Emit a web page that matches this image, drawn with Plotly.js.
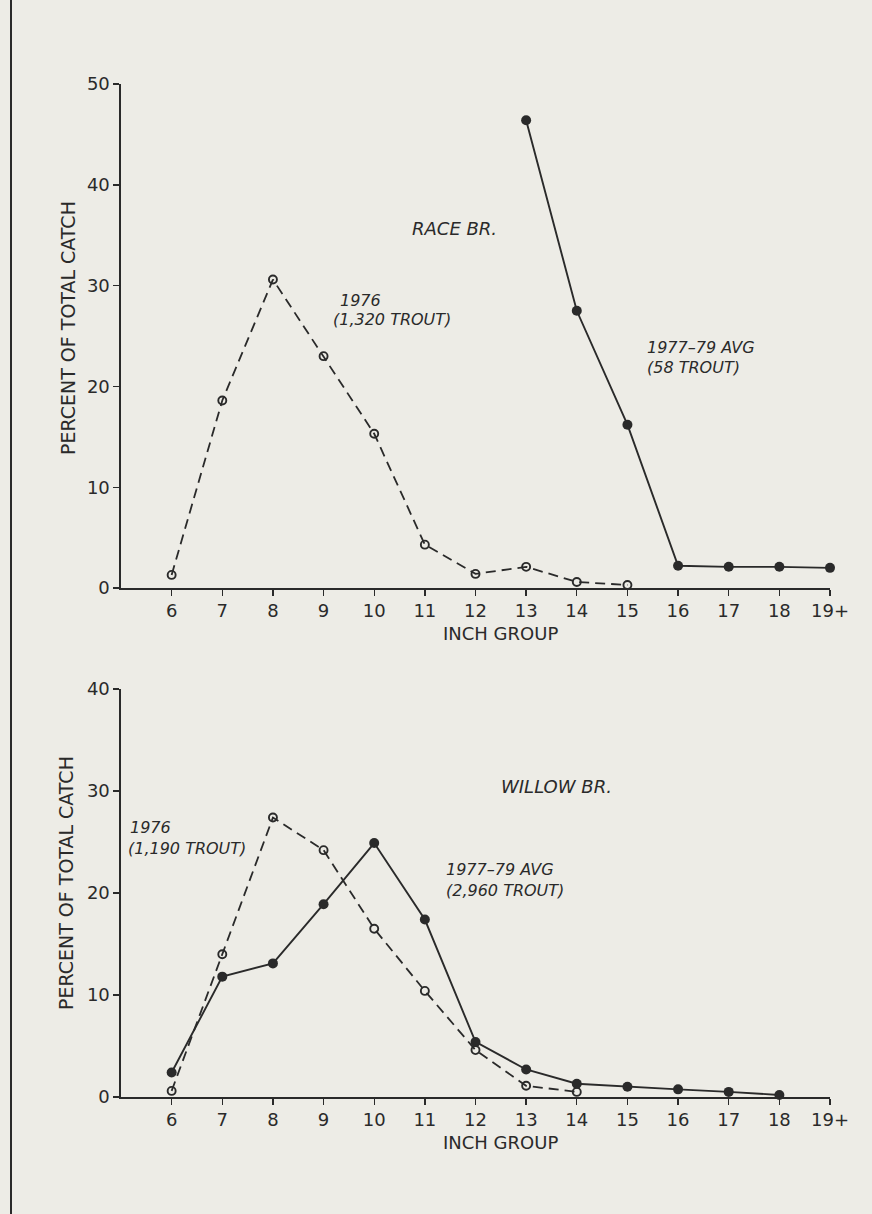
<!DOCTYPE html>
<html>
<head>
<meta charset="utf-8">
<script src="https://cdn.plot.ly/plotly-3.0.1.min.js"></script>
<style>
  html, body { margin: 0; padding: 0; background: #edece6; }
  #chart { width: 872px; height: 1214px; }
</style>
</head>
<body>
<div id="chart"></div>
<script>
// Inch groups shown along both x axes
const inchGroups = ['6', '7', '8', '9', '10', '11', '12', '13', '14', '15', '16', '17', '18', '19+'];

// Race Br. — percent of total catch by inch group
const raceGroups1976 = ['6', '7', '8', '9', '10', '11', '12', '13', '14', '15'];
const race1976 = [1.3, 18.6, 30.6, 23.0, 15.3, 4.3, 1.4, 2.1, 0.6, 0.3];
const raceGroupsAvg = ['13', '14', '15', '16', '17', '18', '19+'];
const raceAvg = [46.4, 27.5, 16.2, 2.2, 2.1, 2.1, 2.0];

// Willow Br. — percent of total catch by inch group
const willowGroups1976 = ['6', '7', '8', '9', '10', '11', '12', '13', '14'];
const willow1976 = [0.6, 14.0, 27.4, 24.2, 16.5, 10.4, 4.6, 1.1, 0.5];
const willowGroupsAvg = ['6', '7', '8', '9', '10', '11', '12', '13', '14', '15', '16', '17', '18'];
const willowAvg = [2.4, 11.8, 13.1, 18.9, 24.9, 17.4, 5.4, 2.7, 1.3, 1.0, 0.75, 0.5, 0.2];

const INK = '#2a2a2a';
const FONT = 'DejaVu Sans, Verdana, sans-serif';
const W = 872, H = 1214;
const px = v => v / W;
const py = v => 1 - v / H;

function dashed(x, y, xa, ya) {
  return {
    x: x, y: y, xaxis: xa, yaxis: ya, type: 'scatter', mode: 'lines+markers',
    line: { color: INK, width: 1.8, dash: '10px,6px' },
    marker: { symbol: 'circle-open', size: 8, color: INK, line: { color: INK, width: 1.9 } },
    cliponaxis: false, showlegend: false, hoverinfo: 'x+y'
  };
}
function solid(x, y, xa, ya) {
  return {
    x: x, y: y, xaxis: xa, yaxis: ya, type: 'scatter', mode: 'lines+markers',
    line: { color: INK, width: 1.9 },
    marker: { symbol: 'circle', size: 10, color: INK },
    cliponaxis: false, showlegend: false, hoverinfo: 'x+y'
  };
}

const data = [
  dashed(raceGroups1976, race1976, 'x', 'y'),
  solid(raceGroupsAvg, raceAvg, 'x', 'y'),
  dashed(willowGroups1976, willow1976, 'x2', 'y2'),
  solid(willowGroupsAvg, willowAvg, 'x2', 'y2')
];

function xAxis(anchor) {
  return {
    type: 'category', categoryarray: inchGroups, categoryorder: 'array',
    range: [-1, inchGroups.length - 1], domain: [px(121), px(830)], anchor: anchor,
    showline: true, linecolor: INK, linewidth: 1.6, mirror: false,
    ticks: 'outside', ticklen: 6, tickwidth: 1.4, tickcolor: INK,
    showgrid: false, zeroline: false, fixedrange: true,
    tickfont: { family: FONT, size: 18, color: INK }
  };
}
function yAxis(anchor, top, bottom, maxV) {
  return {
    range: [0, maxV], domain: [py(bottom), py(top)], anchor: anchor, dtick: 10,
    showline: true, linecolor: INK, linewidth: 1.6,
    ticks: 'outside', ticklen: 6, tickwidth: 1.4, tickcolor: INK,
    showgrid: false, zeroline: false, fixedrange: true,
    tickfont: { family: FONT, size: 18, color: INK }
  };
}

function label(text, x, y, size, opts) {
  return Object.assign({
    text: text, xref: 'paper', yref: 'paper', x: px(x), y: py(y),
    xanchor: 'left', yanchor: 'middle', showarrow: false,
    font: { family: FONT, size: size, color: INK }
  }, opts || {});
}

const annotations = [
  // y axis titles
  label('PERCENT OF TOTAL CATCH', 68, 328, 19, { xanchor: 'center', textangle: -90 }),
  label('PERCENT OF TOTAL CATCH', 66, 883, 19, { xanchor: 'center', textangle: -90 }),
  // x axis titles
  label('INCH GROUP', 500, 633, 18, { xanchor: 'center' }),
  label('INCH GROUP', 500, 1142, 18, { xanchor: 'center' }),
  // Race Br. panel
  label('<i>RACE BR.</i>', 410, 228, 18),
  label('<i>1976</i>', 338, 300, 16),
  label('<i>(1,320 TROUT)</i>', 331, 320, 16),
  label('<i>1977–79 AVG</i>', 645, 347, 16),
  label('<i>(58 TROUT)</i>', 645, 368, 16),
  // Willow Br. panel
  label('<i>WILLOW BR.</i>', 499, 786, 18),
  label('<i>1976</i>', 128, 827, 16),
  label('<i>(1,190 TROUT)</i>', 126, 848, 16),
  label('<i>1977–79 AVG</i>', 444, 869, 16),
  label('<i>(2,960 TROUT)</i>', 444, 890, 16)
];

const layout = {
  width: W, height: H,
  margin: { l: 0, r: 0, t: 0, b: 0 },
  paper_bgcolor: '#edece6', plot_bgcolor: 'rgba(0,0,0,0)',
  showlegend: false,
  xaxis: xAxis('y'),
  yaxis: yAxis('x', 84, 588, 50),
  xaxis2: xAxis('y2'),
  yaxis2: yAxis('x2', 689, 1097, 40),
  annotations: annotations,
  shapes: [
    // page frame rule along the left edge
    { type: 'line', xref: 'paper', yref: 'paper', x0: px(11), x1: px(11), y0: 0, y1: 1,
      line: { color: INK, width: 2 } }
  ]
};

Plotly.newPlot('chart', data, layout, { staticPlot: true, displayModeBar: false });
</script>
</body>
</html>
